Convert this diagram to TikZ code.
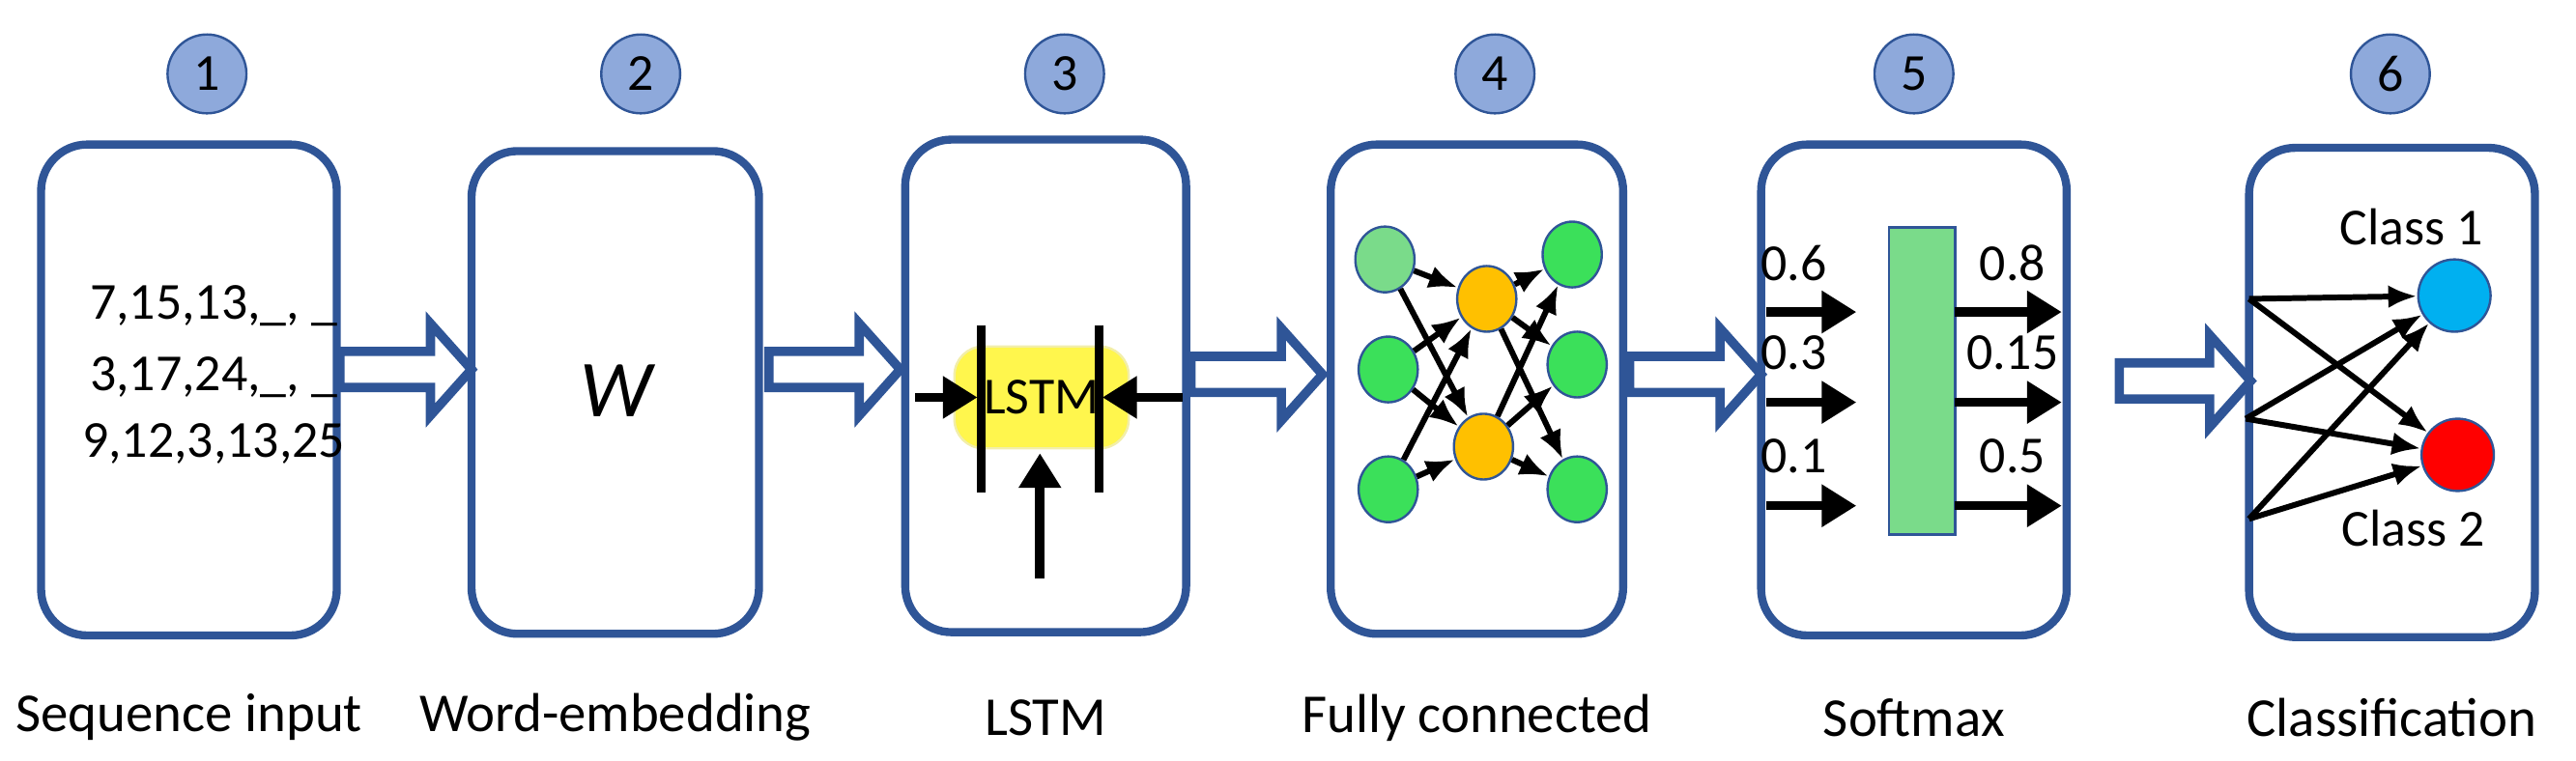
\documentclass[tikz,border=0pt]{standalone}
\usepackage{fontspec}
\setmainfont{Carlito}
\usetikzlibrary{arrows.meta}
\usetikzlibrary{shapes.geometric}
\definecolor{boxblue}{HTML}{2F5597}
\definecolor{numblue}{HTML}{8EA9DB}
\definecolor{nodegreen}{HTML}{3BE05A}
\definecolor{palegreen}{HTML}{7ADB8A}
\definecolor{hidorange}{HTML}{FFC000}
\definecolor{cls1}{HTML}{00B0F0}
\tikzset{
  stage/.style={draw=boxblue, line width=1.4pt, rounded corners=8pt},
  num/.style={circle, draw=boxblue, fill=numblue, minimum size=0.48cm, inner sep=0pt, font=\fontsize{9}{10}\selectfont},
  caption/.style={font=\fontsize{9.5}{11}\selectfont},
  val/.style={font=\fontsize{9}{10}\selectfont},
  neuron/.style={ellipse, draw=boxblue, minimum width=0.36cm, minimum height=0.4cm, inner sep=0pt},
  wire/.style={-{Latex[length=5pt,width=4pt]}, line width=1pt},
  fat/.style={-{Triangle[length=6pt,width=7pt]}, line width=1.6pt},
}
\begin{document}
\begin{tikzpicture}[x=0.01cm,y=-0.01cm]
\useasboundingbox (0,0) rectangle (1568,463);

% stage boxes, numbers and captions
\foreach \l/\r/\t/\b/\n/\cx/\cap in {25/205/88/387/1/126/Sequence input, 287/462/92/386/2/390/Word-embedding, 551/722/85/385/3/648/LSTM, 810/988/88/386/4/910/Fully connected, 1072/1258/88/387/5/1165/Softmax, 1369/1543/90/388/6/1455/Classification}{
  \draw[stage] (\l,\t) rectangle (\r,\b);
  \node[num] (n\n) at (\cx,45) {\n};
  \node[caption] (cap\n) at ({(\l+\r)/2},437) {\cap};
}

% hollow arrows between stages
\foreach \a/\y in {207/225, 468/225, 725/228, 992/228, 1290/232}{
  \draw[boxblue, line width=1.6pt, fill=white] (\a,\y-11) -- (\a+55,\y-11) -- (\a+55,\y-28) -- (\a+80,\y) -- (\a+55,\y+28) -- (\a+55,\y+11) -- (\a,\y+11) -- cycle;
}

% 1: sequences
\node[val] (s1) at (130,186) {7,15,13,\_, \_};
\node[val] (s2) at (130,230) {3,17,24,\_, \_};
\node[val] (s3) at (130,270) {9,12,3,13,25};

% 2: embedding
\node[font=\fontsize{14}{16}\selectfont\itshape] (w) at (375,238) {W};

% 3: lstm cell
\node[draw=yellow!60!olive!30, fill=yellow!70!white, rounded corners=5pt, minimum width=1.06cm, minimum height=0.62cm, val] (cell) at (634,242) {LSTM};
\draw[line width=1.5pt] (597,198) -- (597,300);
\draw[line width=1.5pt] (669,198) -- (669,300);
\coordinate (inl) at (557,242);
\coordinate (inr) at (720,242);
\coordinate (inb) at (633,352);
\draw[fat] (inl) -- (595,242);
\draw[fat] (inr) -- (671,242);
\draw[fat] (inb) -- (633,276);

% 4: fully connected
\node[neuron, fill=palegreen] (i1) at (843,158) {};
\node[neuron, fill=nodegreen] (i2) at (845,225) {};
\node[neuron, fill=nodegreen] (i3) at (845,298) {};
\node[neuron, fill=hidorange] (h1) at (905,182) {};
\node[neuron, fill=hidorange] (h2) at (903,272) {};
\node[neuron, fill=nodegreen] (o1) at (957,155) {};
\node[neuron, fill=nodegreen] (o2) at (960,222) {};
\node[neuron, fill=nodegreen] (o3) at (960,298) {};
\foreach \i in {i1,i2,i3}{
  \draw[wire] (\i) -- (h1);
  \draw[wire] (\i) -- (h2);
}
\foreach \o in {o1,o2,o3}{
  \draw[wire] (h1) -- (\o);
  \draw[wire] (h2) -- (\o);
}

% 5: softmax
\node[draw=boxblue, fill=palegreen, minimum width=0.4cm, minimum height=1.87cm, inner sep=0pt] (soft) at (1170,232) {};
\foreach \y/\vi/\vo in {190/0.6/0.8, 245/0.3/0.15, 308/0.1/0.5}{
  \draw[fat] (1075,\y) -- (1130,\y);
  \draw[fat] (1190,\y) -- (1255,\y);
  \node[val] at (1092,\y-30) {\vi};
  \node[val] at (1225,\y-30) {\vo};
}

% 6: classification
\node[circle, draw=boxblue, fill=cls1, minimum size=0.44cm] (c1) at (1494,180) {};
\node[circle, draw=boxblue, fill=red, minimum size=0.44cm] (c2) at (1496,277) {};
\node[val] (l1) at (1468,138) {Class 1};
\node[val] (l2) at (1469,322) {Class 2};
\coordinate (p1) at (1369,182);
\coordinate (p2) at (1367,255);
\coordinate (p3) at (1369,316);
\foreach \p in {p1,p2,p3}{
  \draw[wire] (\p) -- (c1);
  \draw[wire] (\p) -- (c2);
}
\end{tikzpicture}
\end{document}
